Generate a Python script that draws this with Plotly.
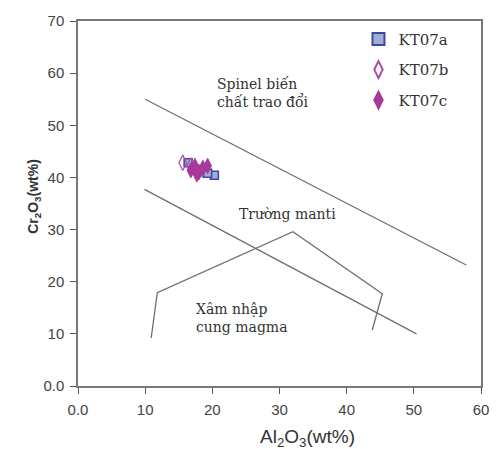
import plotly.graph_objects as go

# Data
kt07a_x = [20.3, 19.3, 16.4, 17.5]
kt07a_y = [40.4, 40.8, 42.8, 41.5]
kt07b_x = [15.6, 16.8, 18.5]
kt07b_y = [42.8, 42.3, 41.5]
kt07c_x = [16.8, 17.4, 18.0, 18.6, 19.3, 17.7]
kt07c_y = [41.4, 42.2, 41.0, 41.8, 42.2, 40.6]

upper_line_x = [10.0, 57.8]
upper_line_y = [55.0, 23.2]
lower_line_x = [9.9, 50.4]
lower_line_y = [37.7, 10.0]
arc_x = [10.9, 11.8, 32.0, 45.3, 43.8]
arc_y = [9.2, 17.9, 29.6, 17.7, 10.7]

x_ticks = [0, 10, 20, 30, 40, 50, 60]
x_labels = ["0.0", "10", "20", "30", "40", "50", "60"]
y_ticks = [0, 10, 20, 30, 40, 50, 60, 70]
y_labels = ["0.0", "10", "20", "30", "40", "50", "60", "70"]

line_color = "#6e6e6e"
serif = "DejaVu Serif"
sans = "Liberation Sans"

fig = go.Figure()
for lx, ly in [(upper_line_x, upper_line_y), (lower_line_x, lower_line_y), (arc_x, arc_y)]:
    fig.add_trace(go.Scatter(x=lx, y=ly, mode="lines", line=dict(color=line_color, width=1.3),
                             showlegend=False, hoverinfo="skip"))

fig.add_trace(go.Scatter(x=kt07a_x, y=kt07a_y, mode="markers", name="KT07a", legendgroup="a",
                         marker=dict(symbol="square", size=8, color="#a3acd8",
                                     line=dict(color="#3b4aa0", width=1.5))))
fig.add_trace(go.Scatter(x=kt07b_x, y=kt07b_y, mode="markers", name="KT07b", legendgroup="b",
                         marker=dict(symbol="diamond-tall-open", size=11, color="#b24aa0",
                                     line=dict(width=1.2))))
fig.add_trace(go.Scatter(x=kt07c_x, y=kt07c_y, mode="markers", name="KT07c", legendgroup="c",
                         marker=dict(symbol="diamond-tall", size=11, color="#a8389a",
                                     line=dict(color="#a8389a", width=1))))

fig.add_annotation(x=20.4, y=56.2, xanchor="left", text="Spinel biến<br>chất trao đổi", showarrow=False,
                   font=dict(family=serif, size=14, color="#333"), align="left")
fig.add_annotation(x=23.6, y=33.0, xanchor="left", text="Trường manti", showarrow=False,
                   font=dict(family=serif, size=14, color="#333"))
fig.add_annotation(x=17.2, y=13.0, text="Xâm nhập<br>cung magma", showarrow=False, xanchor="left",
                   font=dict(family=serif, size=14, color="#333"), align="left")

fig.add_annotation(xref="paper", yref="paper", x=0.569, y=-0.105, yanchor="top",
                   text="Al<sub>2</sub>O<sub>3</sub>(wt%)", showarrow=False,
                   font=dict(family=sans, size=19, color="#333"))
fig.add_annotation(xref="paper", yref="paper", x=-0.135, y=0.52, textangle=-90,
                   text="<b>Cr<sub>2</sub>O<sub>3</sub>(wt%)</b>", showarrow=False,
                   font=dict(family=sans, size=14, color="#333"))

axis_common = dict(showgrid=False, zeroline=False, showline=True, linecolor="#777", linewidth=1.5,
                   mirror=True, ticks="outside", ticklen=6, tickcolor="#555", ticklabelstandoff=3,
                   tickfont=dict(family=sans, size=15, color="#444"))
fig.update_xaxes(range=[0, 60], tickvals=x_ticks, ticktext=x_labels, **axis_common)
fig.update_yaxes(range=[0, 70], tickvals=y_ticks, ticktext=y_labels, **axis_common)

fig.update_layout(
    width=501, height=449,
    margin=dict(l=78, r=12, t=14, b=63),
    plot_bgcolor="white", paper_bgcolor="white",
    legend=dict(x=0.696, y=0.995, xanchor="left", yanchor="top", bgcolor="rgba(0,0,0,0)",
                font=dict(family=serif, size=15, color="#333"), tracegroupgap=8,
                traceorder="grouped", itemsizing="constant"),
)

fig.write_html("out.html")
